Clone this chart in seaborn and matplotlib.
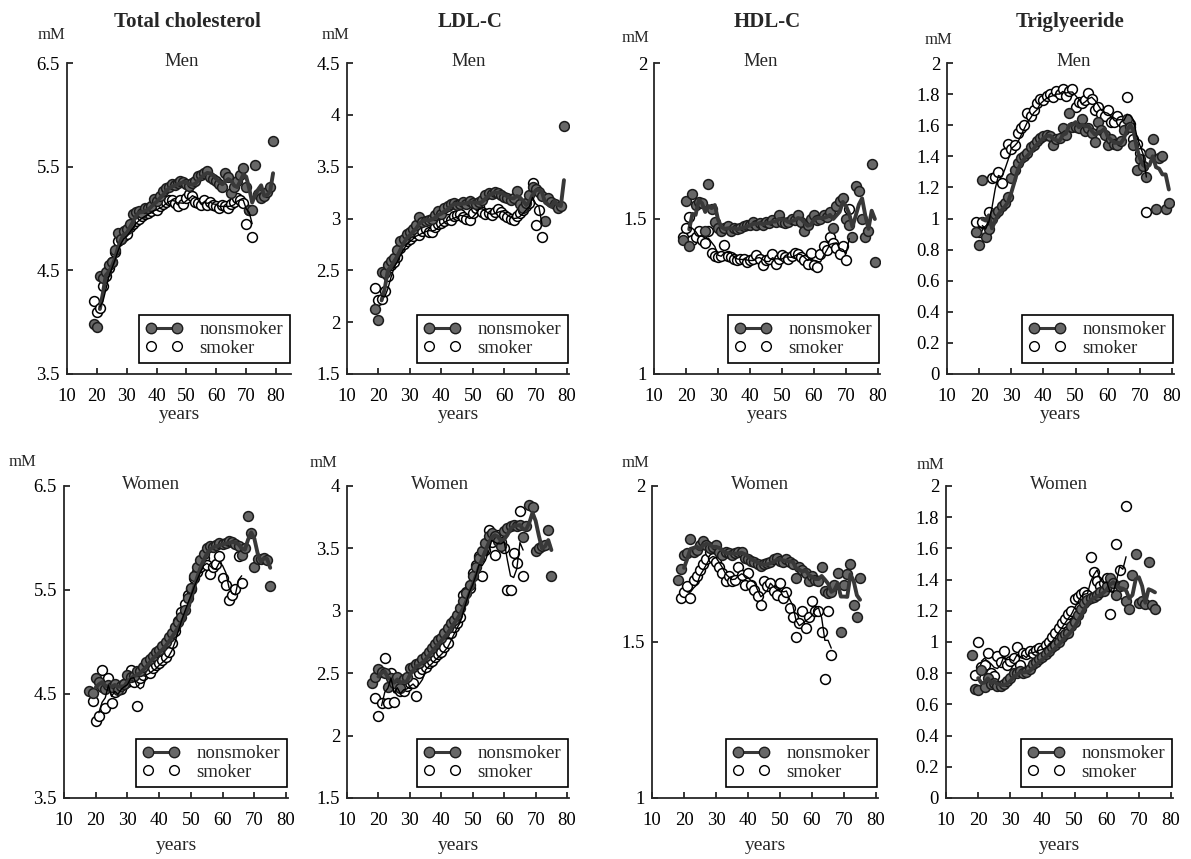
import numpy as np
import pandas as pd
import matplotlib
matplotlib.use('Agg')
import matplotlib.pyplot as plt
from matplotlib.lines import Line2D
from matplotlib.ticker import FuncFormatter
import seaborn as sns

#%%% data, one value per year of age
men_start, men_smk_start = 19, 19
women_start, women_smk_start = 18, 19

tc_men_non = [3.98, 3.95, 4.45, 4.43, 4.48, 4.55, 4.58, 4.70, 4.86, 4.80,
              4.88, 4.90, 4.95, 5.04, 5.06, 5.07, 5.05, 5.10, 5.10, 5.12,
              5.19, 5.17, 5.22, 5.27, 5.29, 5.30, 5.33, 5.32, 5.34, 5.36,
              5.35, 5.33, 5.31, 5.34, 5.36, 5.41, 5.42, 5.44, 5.46, 5.40,
              5.38, 5.36, 5.33, 5.30, 5.44, 5.40, 5.25, 5.30, 5.36, 5.42,
              5.49, 5.30, 5.08, 5.08, 5.52, 5.24, 5.20, 5.22, 5.26, 5.30, 5.75]
tc_men_smk = [4.20, 4.10, 4.14, 4.35, 4.45, 4.52, 4.58, 4.68, 4.78, 4.80,
              4.83, 4.85, 4.92, 4.95, 4.98, 5.00, 5.02, 5.04, 5.05, 5.07,
              5.10, 5.08, 5.12, 5.14, 5.16, 5.18, 5.18, 5.15, 5.12, 5.18,
              5.14, 5.20, 5.24, 5.22, 5.16, 5.15, 5.13, 5.18, 5.13, 5.16,
              5.13, 5.12, 5.10, 5.13, 5.12, 5.10, 5.14, 5.16, 5.20, 5.18,
              5.15, 4.95, 5.08, 4.82]
ldl_men_non = [2.13, 2.02, 2.48, 2.47, 2.55, 2.59, 2.62, 2.70, 2.78, 2.80,
               2.85, 2.87, 2.90, 2.94, 3.01, 2.97, 2.98, 2.99, 3.00, 3.03,
               3.07, 3.04, 3.10, 3.12, 3.14, 3.15, 3.13, 3.14, 3.16, 3.14,
               3.17, 3.15, 3.14, 3.16, 3.18, 3.23, 3.25, 3.24, 3.26, 3.25,
               3.23, 3.21, 3.20, 3.18, 3.20, 3.27, 3.14, 3.10, 3.15, 3.23,
               3.30, 3.28, 3.26, 3.22, 2.98, 3.20, 3.16, 3.14, 3.10, 3.12, 3.89]
ldl_men_smk = [2.33, 2.21, 2.22, 2.30, 2.45, 2.55, 2.58, 2.63, 2.72, 2.75,
               2.78, 2.80, 2.83, 2.86, 2.84, 2.88, 2.90, 2.87, 2.87, 2.92,
               2.95, 2.96, 2.98, 3.00, 2.99, 3.02, 3.03, 3.04, 3.01, 3.00,
               2.99, 3.05, 3.10, 3.12, 3.06, 3.04, 3.05, 3.03, 3.06, 3.09,
               3.06, 3.03, 3.01, 3.00, 2.99, 3.02, 3.05, 3.08, 3.12, 3.15,
               3.34, 2.94, 3.08, 2.82]
hdl_men_non = [1.43, 1.555, 1.41, 1.58, 1.545, 1.553, 1.55, 1.46, 1.61, 1.53,
               1.49, 1.47, 1.46, 1.47, 1.475, 1.46, 1.47, 1.465, 1.47, 1.475,
               1.478, 1.48, 1.49, 1.48, 1.485, 1.48, 1.49, 1.485, 1.495, 1.49,
               1.51, 1.49, 1.485, 1.49, 1.50, 1.495, 1.51, 1.49, 1.46, 1.48,
               1.50, 1.51, 1.495, 1.50, 1.51, 1.505, 1.52, 1.47, 1.54, 1.555,
               1.565, 1.50, 1.48, 1.44, 1.605, 1.59, 1.50, 1.44, 1.46, 1.675, 1.36]
hdl_men_smk = [1.44, 1.47, 1.505, 1.43, 1.44, 1.46, 1.43, 1.42, 1.46, 1.39,
               1.38, 1.376, 1.38, 1.414, 1.38, 1.375, 1.37, 1.365, 1.37, 1.37,
               1.36, 1.365, 1.37, 1.383, 1.37, 1.35, 1.365, 1.37, 1.386, 1.355,
               1.37, 1.384, 1.375, 1.37, 1.38, 1.39, 1.386, 1.375, 1.365, 1.355,
               1.39, 1.35, 1.345, 1.386, 1.41, 1.40, 1.44, 1.42, 1.405, 1.386,
               1.41, 1.365, 1.532]
tg_men_non = [0.91, 0.83, 1.25, 0.88, 0.93, 1.00, 1.03, 1.05, 1.08, 1.10,
              1.14, 1.26, 1.31, 1.36, 1.39, 1.40, 1.42, 1.46, 1.47, 1.50,
              1.52, 1.53, 1.54, 1.53, 1.47, 1.51, 1.52, 1.58, 1.54, 1.68,
              1.59, 1.59, 1.58, 1.64, 1.56, 1.58, 1.55, 1.49, 1.62, 1.57,
              1.54, 1.47, 1.51, 1.48, 1.47, 1.50, 1.57, 1.64, 1.59, 1.47,
              1.31, 1.38, 1.34, 1.27, 1.42, 1.51, 1.06, 1.39, 1.40, 1.06, 1.10]
tg_men_smk = [0.98, 0.91, 0.975, 0.91, 1.045, 1.26, 1.27, 1.30, 1.23, 1.42,
              1.48, 1.45, 1.47, 1.55, 1.58, 1.60, 1.68, 1.66, 1.70, 1.74,
              1.77, 1.76, 1.79, 1.80, 1.78, 1.82, 1.80, 1.83, 1.79, 1.82,
              1.83, 1.72, 1.75, 1.74, 1.76, 1.81, 1.77, 1.70, 1.72, 1.67,
              1.66, 1.70, 1.62, 1.62, 1.66, 1.63, 1.60, 1.78, 1.61, 1.51,
              1.48, 1.42, 1.34, 1.04]

tc_wom_non = [4.53, 4.51, 4.65, 4.62, 4.57, 4.55, 4.59, 4.57, 4.60, 4.54,
              4.58, 4.60, 4.68, 4.66, 4.67, 4.72, 4.72, 4.76, 4.81, 4.84,
              4.87, 4.90, 4.92, 4.96, 5.00, 5.05, 5.09, 5.14, 5.19, 5.24,
              5.31, 5.42, 5.52, 5.63, 5.72, 5.79, 5.85, 5.90, 5.92, 5.91,
              5.93, 5.95, 5.94, 5.95, 5.97, 5.96, 5.94, 5.92, 5.84, 5.90,
              6.21, 6.05, 5.72, 5.80, 5.80, 5.81, 5.79, 5.54]
tc_wom_smk = [4.43, 4.24, 4.29, 4.73, 4.37, 4.65, 4.41, 4.52, 4.56, 4.55,
              4.60, 4.62, 4.73, 4.62, 4.38, 4.65, 4.68, 4.72, 4.70, 4.75,
              4.78, 4.80, 4.83, 4.86, 4.90, 4.99, 5.11, 5.20, 5.29, 5.37,
              5.45, 5.51, 5.62, 5.67, 5.72, 5.81, 5.74, 5.65, 5.72, 5.75,
              5.83, 5.62, 5.55, 5.40, 5.45, 5.51, 5.83, 5.57]
ldl_wom_non = [2.42, 2.47, 2.53, 2.51, 2.50, 2.39, 2.46, 2.42, 2.47, 2.38,
               2.45, 2.47, 2.54, 2.55, 2.57, 2.58, 2.61, 2.64, 2.67, 2.70,
               2.73, 2.77, 2.78, 2.82, 2.86, 2.90, 2.93, 2.97, 3.02, 3.08,
               3.14, 3.21, 3.28, 3.35, 3.42, 3.48, 3.54, 3.60, 3.62, 3.60,
               3.56, 3.52, 3.64, 3.66, 3.68, 3.69, 3.68, 3.69, 3.59, 3.68,
               3.85, 3.83, 3.48, 3.50, 3.52, 3.53, 3.65, 3.28]
ldl_wom_smk = [2.30, 2.16, 2.26, 2.62, 2.26, 2.50, 2.27, 2.38, 2.36, 2.36,
               2.40, 2.42, 2.42, 2.32, 2.50, 2.53, 2.55, 2.58, 2.60, 2.63,
               2.65, 2.67, 2.71, 2.74, 2.82, 2.87, 2.90, 2.95, 3.13, 3.15,
               3.18, 3.30, 3.37, 3.44, 3.28, 3.49, 3.65, 3.55, 3.45, 3.61,
               3.55, 3.50, 3.17, 3.17, 3.46, 3.38, 3.80, 3.28]
hdl_wom_non = [1.70, 1.733, 1.78, 1.785, 1.83, 1.79, 1.795, 1.81, 1.825, 1.81,
               1.80, 1.805, 1.81, 1.79, 1.78, 1.787, 1.785, 1.78, 1.785, 1.787,
               1.787, 1.77, 1.765, 1.76, 1.755, 1.75, 1.744, 1.75, 1.752, 1.755,
               1.765, 1.77, 1.76, 1.755, 1.765, 1.755, 1.75, 1.706, 1.74, 1.73,
               1.72, 1.695, 1.71, 1.70, 1.695, 1.74, 1.665, 1.657, 1.66, 1.684,
               1.72, 1.533, 1.684, 1.717, 1.75, 1.62, 1.58, 1.706]
hdl_wom_smk = [1.64, 1.66, 1.68, 1.64, 1.70, 1.71, 1.73, 1.75, 1.765, 1.787,
               1.77, 1.755, 1.74, 1.72, 1.695, 1.71, 1.695, 1.70, 1.74, 1.716,
               1.684, 1.72, 1.684, 1.668, 1.647, 1.62, 1.695, 1.68, 1.69, 1.663,
               1.652, 1.69, 1.64, 1.66, 1.61, 1.58, 1.517, 1.56, 1.60, 1.544,
               1.58, 1.63, 1.60, 1.60, 1.533, 1.383, 1.60, 1.458]
tg_wom_non = [0.915, 0.70, 0.69, 0.82, 0.71, 0.77, 0.73, 0.74, 0.72, 0.72,
              0.73, 0.75, 0.77, 0.80, 0.80, 0.815, 0.80, 0.81, 0.83, 0.86,
              0.87, 0.89, 0.905, 0.92, 0.94, 0.965, 0.98, 1.00, 1.03, 1.05,
              1.06, 1.10, 1.13, 1.17, 1.21, 1.25, 1.27, 1.285, 1.29, 1.30,
              1.32, 1.33, 1.36, 1.41, 1.38, 1.30, 1.36, 1.365, 1.265, 1.21,
              1.43, 1.565, 1.25, 1.26, 1.245, 1.51, 1.235, 1.21]
tg_wom_smk = [0.79, 1.00, 0.84, 0.85, 0.93, 0.80, 0.78, 0.91, 0.87, 0.94,
              0.85, 0.88, 0.90, 0.965, 0.85, 0.93, 0.92, 0.94, 0.93, 0.95,
              0.96, 0.95, 0.98, 1.00, 1.03, 1.06, 1.09, 1.12, 1.15, 1.18,
              1.20, 1.275, 1.29, 1.31, 1.32, 1.30, 1.545, 1.45, 1.39, 1.36,
              1.38, 1.41, 1.18, 1.36, 1.63, 1.46, 1.31, 1.87]

titles = ['Total cholesterol', 'LDL-C', 'HDL-C', 'Triglyeeride']
men_yticks = [[3.5, 4.5, 5.5, 6.5], [1.5, 2, 2.5, 3, 3.5, 4, 4.5], [1, 1.5, 2],
              [0, 0.2, 0.4, 0.6, 0.8, 1, 1.2, 1.4, 1.6, 1.8, 2]]
wom_yticks = [[3.5, 4.5, 5.5, 6.5], [1.5, 2, 2.5, 3, 3.5, 4], [1, 1.5, 2],
              [0, 0.2, 0.4, 0.6, 0.8, 1, 1.2, 1.4, 1.6, 1.8, 2]]
xticks = [10, 20, 30, 40, 50, 60, 70, 80]

men_data = [(tc_men_non, tc_men_smk), (ldl_men_non, ldl_men_smk),
            (hdl_men_non, hdl_men_smk), (tg_men_non, tg_men_smk)]
wom_data = [(tc_wom_non, tc_wom_smk), (ldl_wom_non, ldl_wom_smk),
            (hdl_wom_non, hdl_wom_smk), (tg_wom_non, tg_wom_smk)]

#%%% style
sns.set_theme(style='ticks')
plt.rcParams['font.family'] = ['Liberation Serif', 'DejaVu Serif']
plt.rcParams['axes.linewidth'] = 1.3

NON_FACE, NON_EDGE, NON_LINE = '#676767', '#1c1c1c', '#383838'


def to_frame(start, vals):
    df = pd.DataFrame({'age': range(start, start + len(vals)), 'mM': vals})
    df['ma'] = df['mM'].rolling(3).mean()   # moving average line
    return df


def draw(ax, non, smk, start_non, start_smk):
    dn = to_frame(start_non, non)
    ds = to_frame(start_smk, smk)
    sns.scatterplot(data=ds, x='age', y='mM', ax=ax, s=50, color='white',
                    edgecolor='black', linewidth=1.1, zorder=2)
    sns.scatterplot(data=dn, x='age', y='mM', ax=ax, s=50, color=NON_FACE,
                    edgecolor=NON_EDGE, linewidth=1.1, zorder=3)
    sns.lineplot(data=dn, x='age', y='ma', ax=ax, color=NON_LINE, lw=2.8, zorder=4)
    sns.lineplot(data=ds, x='age', y='ma', ax=ax, color='black', lw=1.0, zorder=4)


fig = plt.figure(figsize=(11.91, 8.59), dpi=100)
W, H = 1191, 859
lefts_top = [67, 347, 654, 947]
lefts_bot = [64, 347, 652, 946]
widths = [224, 222, 226, 227]
mm_top = [(-16, 28), (-12, 28), (-19, 25), (-9, 23)]
mm_bot = [(-42, 24), (-24, 23), (-17, 23), (-16, 21)]
title_dx = [8, 12, 0, 10]
men_x = [0.51, 0.55, 0.47, 0.56]
wom_x = [0.39, 0.42, 0.48, 0.5]

legend_handles = [
    Line2D([0], [0], color=NON_LINE, lw=2.2, marker='o', markersize=7.5,
           markerfacecolor=NON_FACE, markeredgecolor=NON_EDGE),
    Line2D([0], [0], color='black', lw=0, marker='o', markersize=7,
           markerfacecolor='white', markeredgecolor='black'),
]

for row in range(2):
    for col in range(4):
        if row == 0:
            left, top, bottom = lefts_top[col], 63, 374
            non, smk = men_data[col]
            s0, s1 = men_start, men_smk_start
            yt = men_yticks[col]
            sex, sx = 'Men', men_x[col]
            mm = mm_top[col]
            lpad = 1
        else:
            left, top, bottom = lefts_bot[col], 486, 798
            non, smk = wom_data[col]
            s0, s1 = women_start, women_smk_start
            yt = wom_yticks[col]
            sex, sx = 'Women', wom_x[col]
            mm = mm_bot[col]
            lpad = 6
        ax = fig.add_axes([left / W, 1 - bottom / H, widths[col] / W, (bottom - top) / H])
        draw(ax, non, smk, s0, s1)

        ax.set_xlim(10, 85 if (row == 0 and col == 0) else 80.6)
        ax.set_ylim(yt[0], yt[-1])
        ax.set_xticks(xticks)
        ax.set_yticks(yt)
        ax.yaxis.set_major_formatter(FuncFormatter(lambda v, p: '{:g}'.format(round(v, 2))))
        ax.tick_params(axis='both', direction='in', length=4, width=1.1,
                       labelsize=13.5, colors='black')
        ax.tick_params(axis='x', pad=10)
        ax.tick_params(axis='y', pad=5)
        sns.despine(ax=ax)
        ax.set_ylabel('')
        ax.set_xlabel('years', fontsize=14, labelpad=lpad)

        ax.annotate('mM', xy=(0, 1), xycoords='axes fraction', xytext=mm,
                    textcoords='offset pixels', ha='center', va='center', fontsize=12)
        ax.text(sx, 1.005, sex, transform=ax.transAxes, ha='center', va='center',
                fontsize=13.5)
        if row == 0:
            ax.annotate(titles[col], xy=(0.5, 1), xycoords='axes fraction',
                        xytext=(title_dx[col], 41), textcoords='offset pixels',
                        ha='center', va='center', fontsize=15, fontweight='bold')

        leg = ax.legend(legend_handles, ['nonsmoker', 'smoker'], loc='lower right',
                        bbox_to_anchor=(0.995, 0.035), numpoints=2, fontsize=13.5,
                        handlelength=2.0, handletextpad=0.9, borderpad=0.35,
                        labelspacing=0.05, fancybox=False, framealpha=1,
                        edgecolor='black', borderaxespad=0)
        leg.get_frame().set_linewidth(1.2)

fig.savefig('out.png', dpi=100)
